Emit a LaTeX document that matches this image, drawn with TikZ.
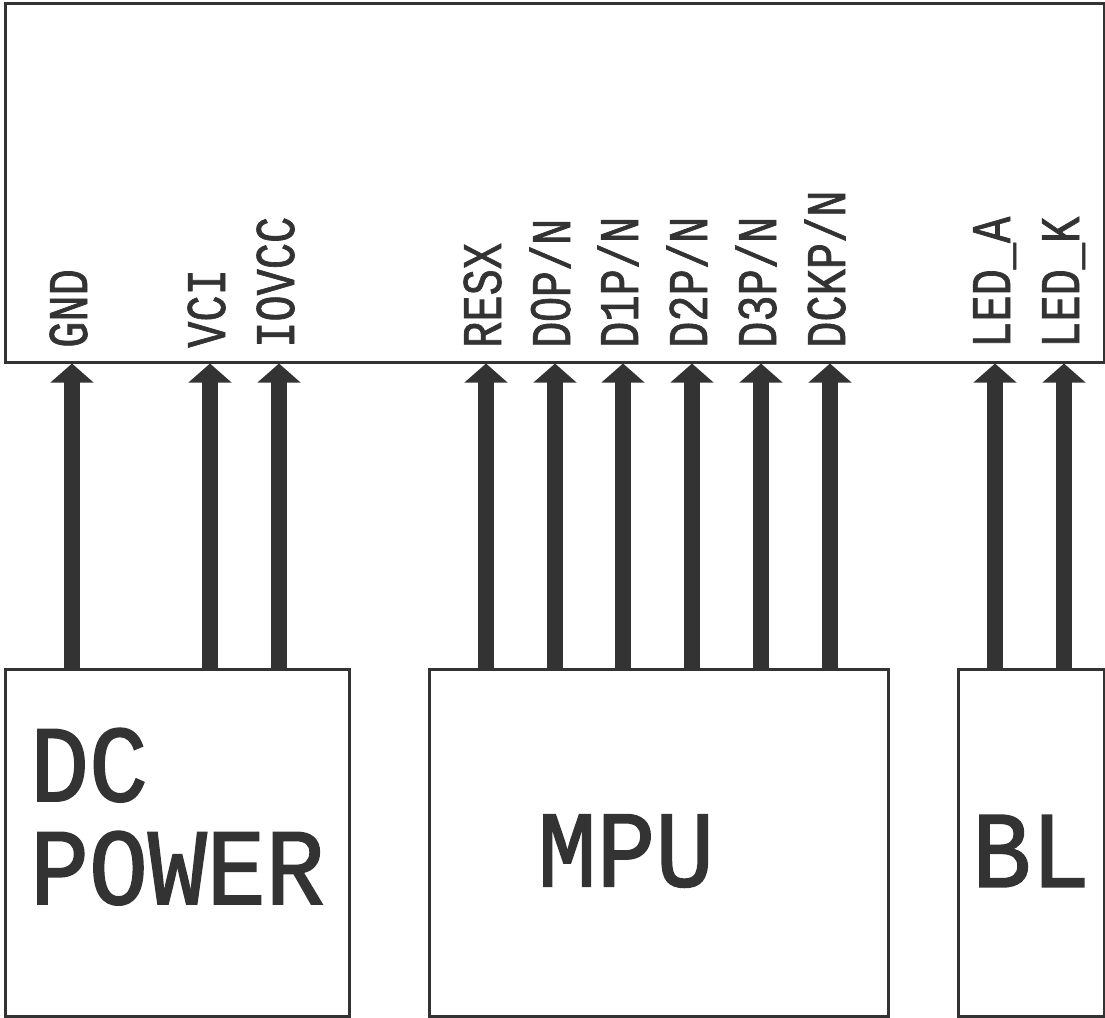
\documentclass[tikz,border=0pt]{standalone}
\usepackage{fontspec}
\usetikzlibrary{arrows.meta}
\newfontfamily\lblfont{Liberation Mono}[FakeStretch=0.78,FakeBold=1.2]
\newfontfamily\zerofont{Liberation Sans}[FakeStretch=0.78,FakeBold=1.2]
\newfontfamily\bigfont{Liberation Mono}[FakeStretch=0.9,FakeBold=1.5]
\definecolor{ink}{HTML}{333333}
\begin{document}
\begin{tikzpicture}[x=1pt,y=-1pt,
  box/.style={draw=ink,line width=2.5pt,rectangle,inner sep=0pt,anchor=north west},
  pin/.style={draw=ink,line width=16pt,-{Triangle[width=42pt,length=19pt]}},
  lbl/.style={rotate=90,anchor=base west,inner sep=0pt,text=ink,font=\fontsize{56}{56}\lblfont},
  bigtxt/.style={text=ink,font=\fontsize{109}{103}\bigfont,inner sep=0pt}]
\useasboundingbox (0,0) rectangle (1105,1017);
\node[box,minimum width=1099pt,minimum height=359pt] (lcd) at (4,2) {};
\node[box,minimum width=344pt,minimum height=347pt] (dc) at (4,668) {};
\node[box,minimum width=459pt,minimum height=347pt] (mpu) at (428,668) {};
\node[box,minimum width=146pt,minimum height=347pt] (bl) at (957,668) {};
% texts
\node[bigtxt,anchor=north west,align=left] (dctxt) at (30,728) {DC\\POWER};
\node[bigtxt] (mputxt) at (626,851) {MPU};
\node[bigtxt] (bltxt) at (1031,851) {BL};
% pins
\foreach \nm/\x/\lab/\src in {gnd/72/GND/dc, vci/210/VCI/dc, iovcc/279/IOVCC/dc,
  resx/486/RESX/mpu, d0/555/D{\zerofont 0}P\slash N/mpu, d1/623/D1P\slash N/mpu, d2/692/D2P\slash N/mpu,
  d3/761/D3P\slash N/mpu, dck/830/DCKP\slash N/mpu, leda/995/LED\_A/bl, ledk/1064/LED\_K/bl}{
  \coordinate (\nm s) at (\x,668);
  \coordinate (\nm t) at (\x,361);
  \draw[pin] (\nm s |- \src.north) -- (\nm t |- lcd.south);
  \node[lbl] (\nm l) at ({\x+15},348) {\lab};
}
\end{tikzpicture}
\end{document}
